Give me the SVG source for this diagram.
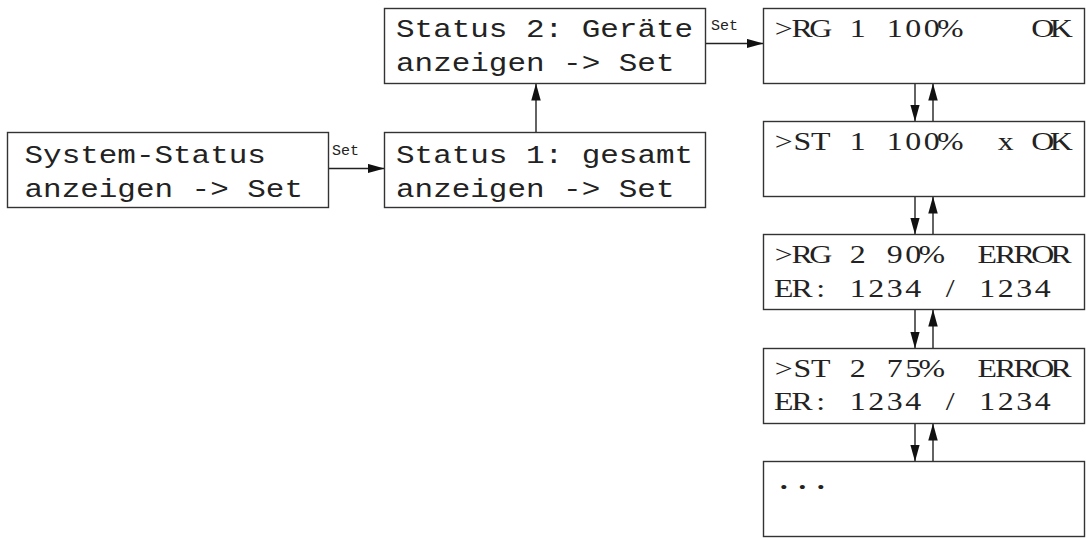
<svg xmlns="http://www.w3.org/2000/svg" width="1086" height="539" viewBox="0 0 1086 539">
<style>
.box{fill:#fff;stroke:#333;stroke-width:1.4}
.t{font-family:"Liberation Mono","DejaVu Sans Mono",monospace;font-size:26.3px;fill:#222}
.r{font-family:"Liberation Serif","DejaVu Serif",serif;font-size:25.5px;fill:#222;text-anchor:middle}
.lbl{font-family:"Liberation Mono","DejaVu Sans Mono",monospace;font-size:15px;fill:#222}
.c{stroke:#222;stroke-width:1.4;fill:none;marker-end:url(#ah)}
</style>
<defs>
<marker id="ah" markerUnits="userSpaceOnUse" markerWidth="18" markerHeight="10" refX="17" refY="4.75" orient="auto">
<path d="M0,0 L17,4.75 L0,9.5 z" fill="#111"/>
</marker>
</defs>
<rect width="1086" height="539" fill="#fff"/>
<g id="connectors">
<path class="c" d="M328.5,168.5 H384.5"/>
<path class="c" d="M536,132.5 V83.5"/>
<path class="c" d="M705.5,43.5 H763.5"/>
<path class="c" d="M915,83.5 V121.5"/>
<path class="c" d="M933,121.5 V83.5"/>
<path class="c" d="M915,196.5 V234.5"/>
<path class="c" d="M933,234.5 V196.5"/>
<path class="c" d="M915,309.5 V348.5"/>
<path class="c" d="M933,348.5 V309.5"/>
<path class="c" d="M915,423.5 V461.5"/>
<path class="c" d="M933,461.5 V423.5"/>
<text class="lbl" x="332" y="155">Set</text>
<text class="lbl" x="711" y="30">Set</text>
</g>
<g id="system-status">
<rect class="box" x="7.5" y="132.5" width="321" height="75"/>
<text class="t" x="24.5" y="162.5" textLength="241.4" lengthAdjust="spacingAndGlyphs">System-Status</text>
<text class="t" x="24.5" y="196.5" textLength="278.5" lengthAdjust="spacingAndGlyphs">anzeigen -&gt; Set</text>
</g>
<g id="status1">
<rect class="box" x="384.5" y="132.5" width="321" height="75"/>
<text class="t" x="396" y="162.5" textLength="297.1" lengthAdjust="spacingAndGlyphs">Status 1: gesamt</text>
<text class="t" x="396" y="196.5" textLength="278.5" lengthAdjust="spacingAndGlyphs">anzeigen -&gt; Set</text>
</g>
<g id="status2">
<rect class="box" x="384.5" y="8.5" width="321" height="75"/>
<text class="t" x="396" y="36.5" textLength="297.1" lengthAdjust="spacingAndGlyphs">Status 2: Geräte</text>
<text class="t" x="396" y="70.5" textLength="278.5" lengthAdjust="spacingAndGlyphs">anzeigen -&gt; Set</text>
</g>
<g id="rg1">
<rect class="box" x="763.5" y="8.5" width="321" height="75"/>
<text class="r" transform="translate(774.5,0) scale(1.25,1)" y="37" xml:space="preserve" x="7.4 22.2 37 51.8 66.6 81.4 96.2 111 125.8 140.6 155.4 170.2 185 199.8 214.6 229.4">&gt;RG 1 100%    OK</text>
</g>
<g id="st1">
<rect class="box" x="763.5" y="121.5" width="321" height="75"/>
<text class="r" transform="translate(774.5,0) scale(1.25,1)" y="150" xml:space="preserve" x="7.4 22.2 37 51.8 66.6 81.4 96.2 111 125.8 140.6 155.4 170.2 185 199.8 214.6 229.4">&gt;ST 1 100%  x OK</text>
</g>
<g id="rg2">
<rect class="box" x="763.5" y="234.5" width="321" height="75"/>
<text class="r" transform="translate(774.5,0) scale(1.25,1)" y="263" xml:space="preserve" x="7.4 22.2 37 51.8 66.6 81.4 96.2 111 125.8 140.6 155.4 170.2 185 199.8 214.6 229.4">&gt;RG 2 90%  ERROR</text>
<text class="r" transform="translate(774.5,0) scale(1.25,1)" y="297" xml:space="preserve" x="7.4 22.2 37 51.8 66.6 81.4 96.2 111 125.8 140.6 155.4 170.2 185 199.8 214.6">ER: 1234 / 1234</text>
</g>
<g id="st2">
<rect class="box" x="763.5" y="348.5" width="321" height="75"/>
<text class="r" transform="translate(774.5,0) scale(1.25,1)" y="377" xml:space="preserve" x="7.4 22.2 37 51.8 66.6 81.4 96.2 111 125.8 140.6 155.4 170.2 185 199.8 214.6 229.4">&gt;ST 2 75%  ERROR</text>
<text class="r" transform="translate(774.5,0) scale(1.25,1)" y="410.5" xml:space="preserve" x="7.4 22.2 37 51.8 66.6 81.4 96.2 111 125.8 140.6 155.4 170.2 185 199.8 214.6">ER: 1234 / 1234</text>
</g>
<g id="more">
<rect class="box" x="763.5" y="461.5" width="321" height="75"/>
<text class="r" transform="translate(774.5,0) scale(1.25,1)" y="489.5" x="7.4 22.2 37" style="font-size:34px">...</text>
</g>
</svg>
